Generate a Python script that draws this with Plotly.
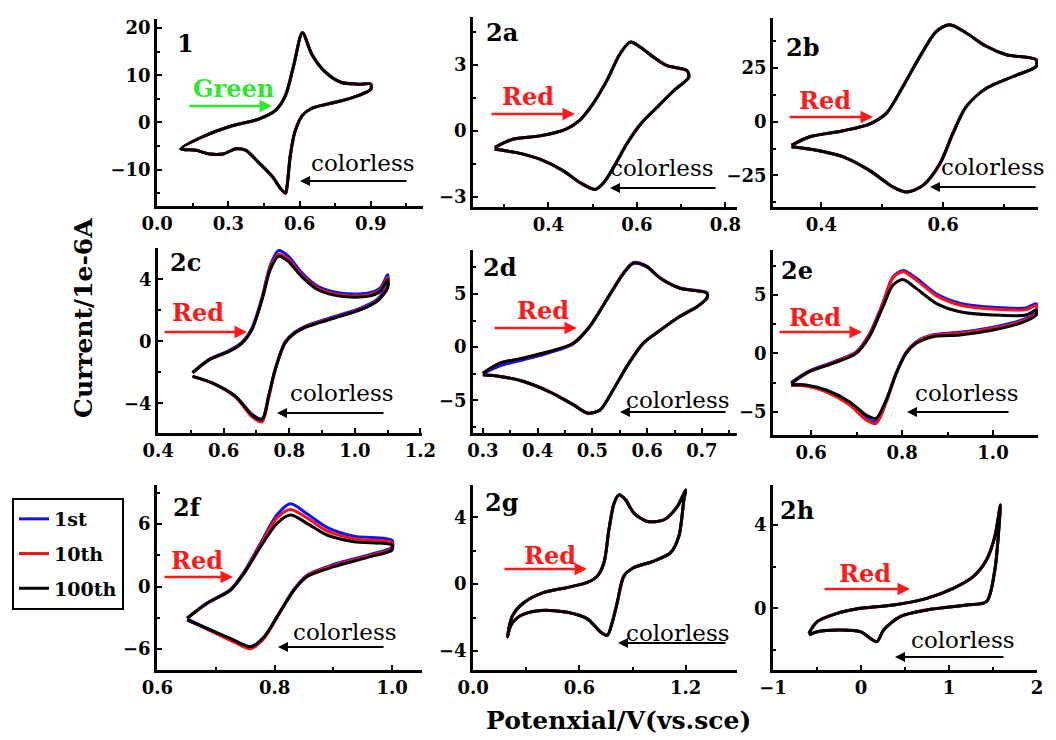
import plotly.graph_objects as go

# target frame is 1056x740; the page body adds an 8 px margin, so the figure is drawn
# 8 px smaller and all layout positions are shifted by that offset
W, H = 1056, 740
OFF = 8
FW, FH = W - OFF, H - OFF
SERIF = "DejaVu Serif"

# ---------------- data ----------------
# Panel 1
X_1 = [0.10, 0.180, 0.316, 0.428, 0.500, 0.540, 0.576, 0.612, 0.652, 0.708, 0.774, 0.846, 0.900,
       0.900, 0.820, 0.737, 0.652, 0.612, 0.581, 0.561, 0.548, 0.541, 0.520, 0.486, 0.428, 0.374,
       0.333, 0.276, 0.222, 0.164, 0.10]
Y_1 = [-5.6, -3.3, -0.7, 0.7, 2.6, 5.6, 12.2, 19.0, 14.4, 10.7, 8.5, 8.1, 8.1,
       7.0, 5.2, 4.1, 3.0, 1.5, -1.9, -7.0, -13.3, -15.0, -14.0, -11.5, -8.5, -5.9,
       -5.6, -6.7, -6.7, -5.9, -5.6]

# Panel 2a
X_2A = [0.279, 0.32, 0.381, 0.44, 0.47, 0.50, 0.532, 0.562, 0.585, 0.608, 0.638, 0.668, 0.713,
        0.717, 0.683, 0.645, 0.608, 0.577, 0.547, 0.525, 0.506, 0.472, 0.434, 0.381, 0.328, 0.279]
Y_2A = [-0.76, -0.38, -0.23, 0.08, 0.46, 1.2, 2.28, 3.5, 4.03, 3.8, 3.34, 2.96, 2.74,
        2.43, 1.82, 1.06, 0.3, -0.6, -1.67, -2.36, -2.66, -2.36, -1.82, -1.29, -0.99, -0.84]

# Panel 2b
X_2B = [0.351, 0.381, 0.436, 0.479, 0.507, 0.534, 0.562, 0.589, 0.611, 0.638, 0.671, 0.704, 0.753,
        0.753, 0.715, 0.671, 0.638, 0.616, 0.595, 0.567, 0.540, 0.518, 0.479, 0.436, 0.392, 0.351]
Y_2B = [-11.0, -7.0, -4.2, -1.1, 4.0, 16.4, 30.5, 42.2, 45.3, 41.4, 35.2, 31.25, 28.9,
        25.8, 21.1, 15.6, 7.0, -5.5, -19.5, -29.7, -32.8, -30.5, -22.7, -16.4, -13.3, -11.7]

# Panel 2c
X_2C = [0.505, 0.556, 0.616, 0.656, 0.686, 0.717, 0.742, 0.767, 0.797, 0.837, 0.887, 0.958, 1.038, 1.078, 1.100,
        1.100, 1.068, 1.018, 0.938, 0.857, 0.817, 0.787, 0.757, 0.737, 0.717, 0.686, 0.636, 0.566, 0.505]
Y_2C_100 = [-2.04, -1.18, -0.65, -0.11, 0.75, 2.69, 4.62, 5.48, 5.16, 4.19, 3.33, 2.90, 2.90, 3.23, 3.98,
            3.44, 2.58, 2.04, 1.50, 0.97, 0.54, -0.11, -1.83, -3.55, -5.05, -4.73, -3.55, -2.69, -2.26]
Y_2C_10 = [-2.04, -1.18, -0.65, -0.10, 0.80, 2.75, 4.75, 5.62, 5.30, 4.30, 3.42, 2.98, 2.98, 3.32, 4.10,
           3.50, 2.62, 2.07, 1.53, 1.00, 0.55, -0.11, -1.85, -3.65, -5.20, -4.85, -3.60, -2.70, -2.26]
Y_2C_1 = [-2.00, -1.15, -0.60, -0.05, 0.85, 2.85, 4.90, 5.85, 5.50, 4.45, 3.55, 3.10, 3.10, 3.45, 4.30,
          3.60, 2.70, 2.15, 1.60, 1.05, 0.60, -0.05, -1.80, -3.55, -5.00, -4.70, -3.55, -2.69, -2.26]

# Panel 2d
X_2D = [0.300, 0.331, 0.373, 0.422, 0.465, 0.495, 0.526, 0.557, 0.575, 0.599, 0.624, 0.660, 0.709,
        0.709, 0.691, 0.660, 0.624, 0.593, 0.563, 0.538, 0.514, 0.492, 0.465, 0.422, 0.373, 0.331, 0.300]
Y_2D_100 = [-2.44, -1.50, -1.03, -0.41, 0.375, 1.94, 4.44, 6.94, 7.875, 7.56, 6.47, 5.53, 5.06,
            4.6, 3.8, 2.9, 1.6, 0.375, -1.8, -4.0, -5.9, -6.2, -5.4, -4.2, -3.2, -2.75, -2.6]
Y_2D_1 = [-2.50, -1.75, -1.20, -0.50, 0.30, 1.90, 4.45, 7.00, 7.95, 7.60, 6.50, 5.55, 5.10,
          4.6, 3.8, 2.9, 1.6, 0.375, -1.8, -4.0, -5.9, -6.2, -5.4, -4.2, -3.2, -2.75, -2.6]

# Panel 2e
X_2E = [0.556, 0.596, 0.648, 0.699, 0.728, 0.758, 0.780, 0.802, 0.831, 0.875, 0.927, 1.000, 1.073, 1.095,
        1.095, 1.059, 1.000, 0.927, 0.868, 0.831, 0.809, 0.787, 0.765, 0.743, 0.721, 0.684, 0.633, 0.589, 0.556]
Y_2E_100 = [-2.57, -1.57, -0.86, 0.0, 1.43, 4.0, 5.86, 6.34, 5.57, 4.29, 3.57, 3.29, 3.29, 3.71,
            3.29, 2.57, 2.0, 1.57, 1.43, 0.86, 0.0, -1.71, -4.0, -5.57, -5.29, -4.14, -3.14, -2.71, -2.71]
Y_2E_10 = [-2.57, -1.55, -0.80, 0.10, 1.60, 4.30, 6.50, 7.00, 6.30, 4.95, 4.15, 3.80, 3.75, 4.10,
           3.40, 2.70, 2.15, 1.72, 1.55, 0.95, 0.05, -1.75, -4.20, -6.00, -5.70, -4.40, -3.30, -2.80, -2.71]
Y_2E_1 = [-2.50, -1.50, -0.75, 0.12, 1.65, 4.35, 6.55, 7.10, 6.45, 5.10, 4.30, 3.95, 3.90, 4.25,
          3.50, 2.80, 2.25, 1.80, 1.60, 1.00, 0.10, -1.70, -4.10, -5.85, -5.55, -4.30, -3.25, -2.75, -2.60]

# Panel 2f
X_2F = [0.651, 0.685, 0.725, 0.748, 0.776, 0.804, 0.827, 0.855, 0.889, 0.935, 1.000,
        1.000, 0.963, 0.901, 0.855, 0.833, 0.804, 0.782, 0.759, 0.730, 0.691, 0.651]
Y_2F_100 = [-3.04, -1.60, -0.32, 1.28, 3.84, 6.08, 6.88, 6.08, 4.96, 4.32, 4.00,
            3.52, 2.88, 1.92, 0.96, -0.32, -2.88, -4.80, -5.76, -5.12, -4.16, -3.20]
Y_2F_10 = [-3.04, -1.60, -0.30, 1.35, 4.05, 6.60, 7.40, 6.60, 5.35, 4.60, 4.20,
           3.65, 3.00, 2.05, 1.05, -0.30, -2.95, -4.95, -5.95, -5.30, -4.25, -3.20]
Y_2F_1 = [-3.00, -1.55, -0.25, 1.45, 4.20, 6.90, 7.95, 7.00, 5.70, 4.85, 4.45,
          3.80, 3.10, 2.15, 1.10, -0.25, -2.90, -4.90, -5.85, -5.20, -4.20, -3.10]

# Panel 2g
X_2G = [0.194, 0.222, 0.288, 0.400, 0.532, 0.645, 0.702, 0.739, 0.767, 0.796, 0.824, 0.861, 0.908, 0.984, 1.078, 1.153, 1.200,
        1.190, 1.162, 1.115, 1.021, 0.908, 0.852, 0.814, 0.786, 0.758, 0.720, 0.645, 0.532, 0.382, 0.269, 0.213, 0.194]
Y_2G = [-3.16, -1.90, -1.10, -0.50, -0.20, 0.10, 0.49, 1.28, 3.26, 4.84, 5.34, 5.04, 4.25, 3.75, 3.85, 4.64, 5.63,
        5.04, 2.87, 1.88, 1.38, 0.99, 0.49, -1.09, -2.27, -3.06, -2.87, -2.08, -1.68, -1.58, -1.88, -2.47, -3.16]

# Panel 2h
X_2H = [-0.592, -0.498, -0.272, -0.008, 0.370, 0.747, 1.049, 1.275, 1.426, 1.521, 1.585,
        1.577, 1.521, 1.426, 1.200, 0.747, 0.445, 0.257, 0.181, 0.106, -0.008, -0.234, -0.498, -0.592]
Y_2H = [-1.20, -0.64, -0.24, 0.0, 0.16, 0.48, 0.96, 1.52, 2.32, 3.44, 4.96,
        4.40, 1.84, 0.32, 0.16, -0.08, -0.40, -1.04, -1.60, -1.44, -1.12, -1.04, -1.12, -1.28]

CYCLES = ["1st", "10th", "100th"]
CYCLE_COLORS = ["#1010ff", "#ff1010", "#000000"]

PANEL_LABELS = ["1", "2a", "2b", "2c", "2d", "2e", "2f", "2g", "2h"]
COLOR_WORDS = ["Green", "Red", "Red", "Red", "Red", "Red", "Red", "Red", "Red"]
BLEACHED_WORD = "colorless"

# ---------------- panel configuration ----------------
panels = [
    dict(x=X_1, ys=[Y_1, Y_1, Y_1], xr=[-0.0005, 1.12], yr=[-17.7, 21.9], xdt=0.3, ydt=10, xfmt=".1f",
         dom=(157, 423, 19, 206)),
    dict(x=X_2A, ys=[Y_2A, Y_2A, Y_2A], xr=[0.23, 0.826], yr=[-3.46, 5.17], xdt=0.2, ydt=3, xfmt=".1f",
         dom=(473, 737, 17, 207)),
    dict(x=X_2B, ys=[Y_2B, Y_2B, Y_2B], xr=[0.3205, 0.756], yr=[-39.8, 48.4], xdt=0.2, ydt=25, xfmt=".1f",
         dom=(773, 1038, 18, 207)),
    dict(x=X_2C, ys=[Y_2C_1, Y_2C_10, Y_2C_100], xr=[0.3995, 1.205], yr=[-5.91, 6.02], xdt=0.2, ydt=4, xfmt=".1f",
         dom=(158, 422, 248, 433)),
    dict(x=X_2D, ys=[Y_2D_1, Y_2D_100, Y_2D_100], xr=[0.282, 0.764], yr=[-8.06, 9.12], xdt=0.1, ydt=5, xfmt=".1f",
         dom=(473, 737, 250, 433)),
    dict(x=X_2E, ys=[Y_2E_1, Y_2E_10, Y_2E_100], xr=[0.516, 1.099], yr=[-7.0, 8.86], xdt=0.2, ydt=5, xfmt=".1f",
         dom=(773, 1038, 250, 435)),
    dict(x=X_2F, ys=[Y_2F_1, Y_2F_10, Y_2F_100], xr=[0.5995, 1.051], yr=[-8.0, 9.76], xdt=0.2, ydt=6, xfmt=".1f",
         dom=(157, 422, 485, 670)),
    dict(x=X_2G, ys=[Y_2G, Y_2G, Y_2G], xr=[-0.0005, 1.49], yr=[-5.14, 5.93], xdt=0.6, ydt=4, xfmt=".1f",
         dom=(473, 737, 485, 670)),
    dict(x=X_2H, ys=[Y_2H, Y_2H, Y_2H], xr=[-1.0005, 2.0005], yr=[-2.96, 5.92], xdt=1, ydt=4, xfmt="d",
         dom=(773, 1037, 485, 670)),
]

# annotation positions (pixels in the 1056x740 frame)
label_pos = [(185, 43), (502, 33), (803, 47), (185, 262), (500, 267), (797, 270), (187, 507), (502, 502), (797, 510)]
word_pos = [(233, 88), (528, 97), (825, 100), (198, 312), (543, 310), (815, 317), (197, 560), (550, 555), (865, 573)]
color_arrow = [((188, 106), (272, 106)), ((490, 114), (575, 114)), ((788, 117), (873, 117)),
               ((163, 332), (247, 332)), ((493, 328), (577, 328)), ((778, 332), (862, 332)),
               ((163, 577), (233, 577)), ((503, 569), (587, 569)), ((823, 589), (910, 589))]
bleach_pos = [(363, 163), (662, 168), (993, 167), (342, 393), (678, 400), (967, 393), (345, 632), (678, 633), (963, 640)]
bleach_arrow = [((408, 181), (300, 181)), ((717, 188), (610, 188)), ((1037, 187), (930, 187)),
                ((385, 413), (277, 413)), ((727, 412), (620, 412)), ((1010, 412), (907, 412)),
                ((385, 647), (278, 647)), ((727, 643), (618, 643)), ((1005, 657), (895, 657))]


def px(x):
    return (x - OFF) / FW


def py(y):
    return 1 - (y - OFF) / FH


fig = go.Figure()
layout = dict(
    width=FW, height=FH, margin=dict(l=0, r=0, t=0, b=0, pad=0, autoexpand=False),
    paper_bgcolor="white", plot_bgcolor="white",
    showlegend=True,
    legend=dict(x=px(12), y=py(498), xanchor="left", yanchor="top",
                bgcolor="white", bordercolor="black", borderwidth=2,
                font=dict(family=SERIF, size=19, color="black", weight="bold"),
                tracegroupgap=7, itemwidth=30),
)

tickfont = dict(family=SERIF, size=18, color="black", weight="bold")

for i, p in enumerate(panels):
    n = i + 1
    xa = "x" if n == 1 else f"x{n}"
    ya = "y" if n == 1 else f"y{n}"
    for c in range(3):
        fig.add_trace(go.Scatter(
            x=p["x"], y=p["ys"][c], mode="lines", name=CYCLES[c],
            line=dict(color=CYCLE_COLORS[c], width=3, shape="spline", smoothing=0.8),
            xaxis=xa, yaxis=ya, showlegend=(n == 1), legendgroup=CYCLES[c], hoverinfo="skip"))
    x0, x1, y0, y1 = p["dom"]
    common = dict(showline=True, linewidth=2.5, linecolor="black", showgrid=False, zeroline=False,
                  ticks="inside", ticklen=5, tickwidth=2, tickcolor="black", tick0=0,
                  tickfont=tickfont, fixedrange=True, automargin=False)
    layout["xaxis" if n == 1 else f"xaxis{n}"] = dict(
        domain=[px(x0), px(x1)], range=p["xr"], anchor=ya, dtick=p["xdt"], tickformat=p["xfmt"],
        minor=dict(ticks="inside", ticklen=3, tickwidth=1.5, tickcolor="black", dtick=p["xdt"] / 2, showgrid=False),
        **common)
    layout["yaxis" if n == 1 else f"yaxis{n}"] = dict(
        domain=[py(y1), py(y0)], range=p["yr"], anchor=xa, dtick=p["ydt"], tickformat="d",
        minor=dict(ticks="inside", ticklen=3, tickwidth=1.5, tickcolor="black", dtick=p["ydt"] / 2, showgrid=False),
        **common)

ann = []
center = dict(xref="paper", yref="paper", xanchor="center", yanchor="middle", showarrow=False)
for i in range(9):
    lx, ly = label_pos[i]
    ann.append(dict(x=px(lx), y=py(ly), text=PANEL_LABELS[i],
                    font=dict(family=SERIF, size=24, color="black", weight="bold"), **center))
    wx, wy = word_pos[i]
    wcol = "#2ee82e" if COLOR_WORDS[i] == "Green" else "#ff1a1a"
    ann.append(dict(x=px(wx), y=py(wy), text=COLOR_WORDS[i],
                    font=dict(family=SERIF, size=24, color=wcol, weight="bold"), **center))
    (tx, ty), (hx, hy) = color_arrow[i]
    ann.append(dict(x=px(hx), y=py(hy), xref="paper", yref="paper", ax=tx - hx, ay=ty - hy,
                    axref="pixel", ayref="pixel", text="", showarrow=True,
                    arrowhead=2, arrowsize=1, arrowwidth=2.5, arrowcolor=wcol))
    bx, by = bleach_pos[i]
    ann.append(dict(x=px(bx), y=py(by), text=BLEACHED_WORD,
                    font=dict(family=SERIF, size=23, color="black"), **center))
    (tx, ty), (hx, hy) = bleach_arrow[i]
    ann.append(dict(x=px(hx), y=py(hy), xref="paper", yref="paper", ax=tx - hx, ay=ty - hy,
                    axref="pixel", ayref="pixel", text="", showarrow=True,
                    arrowhead=2, arrowsize=1, arrowwidth=2, arrowcolor="black"))

ann.append(dict(x=px(83), y=py(318), text="Current/1e-6A", textangle=-90,
                font=dict(family=SERIF, size=25, color="black", weight="bold"), **center))
ann.append(dict(x=px(618), y=py(720), text="Potenxial/V(vs.sce)",
                font=dict(family=SERIF, size=25, color="black", weight="bold"), **center))
layout["annotations"] = ann

fig.update_layout(**layout)
fig.write_html("out.html")
